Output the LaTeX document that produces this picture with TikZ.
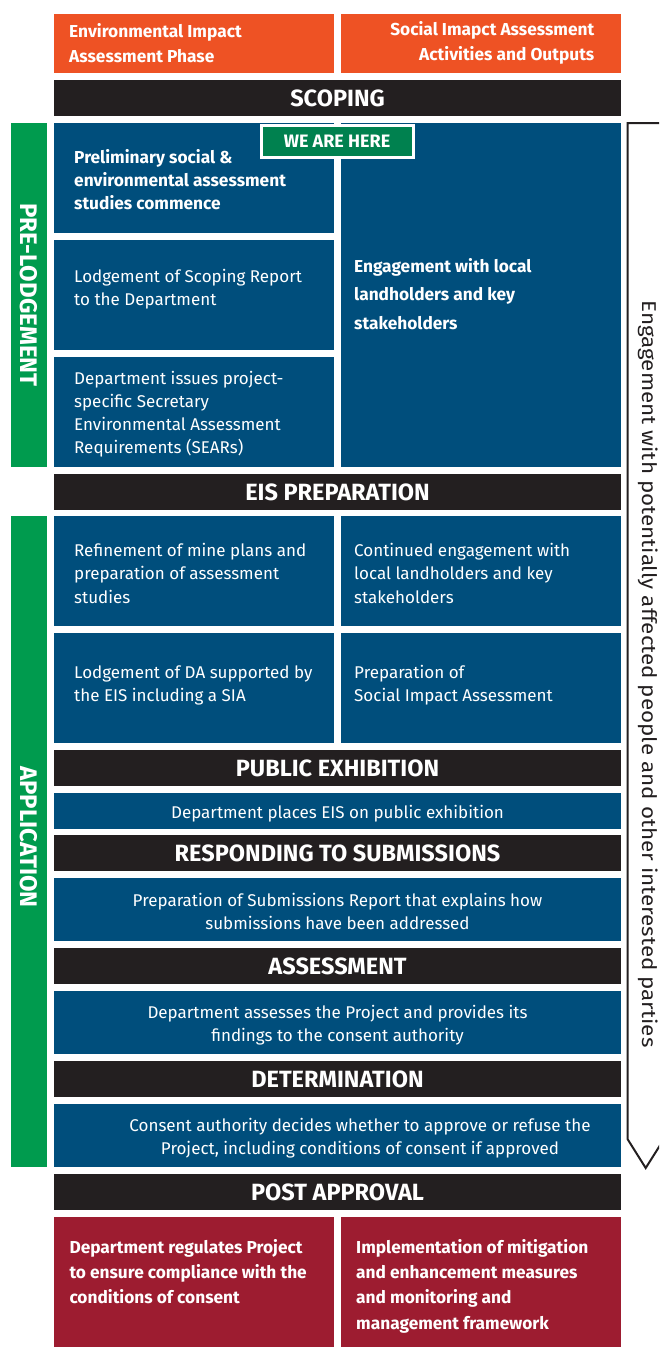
\documentclass[tikz,border=0pt]{standalone}
\usepackage{fontspec}
\setmainfont{Fira Sans}
\definecolor{orng}{HTML}{EE5224}
\definecolor{blk}{HTML}{231F20}
\definecolor{blu}{HTML}{004E7C}
\definecolor{grn}{HTML}{009B4E}
\definecolor{dgrn}{HTML}{00814F}
\definecolor{rd}{HTML}{9D1C30}
\begin{document}
\begin{tikzpicture}[x=1pt,y=-1pt,
  cell/.style={anchor=north west, inner sep=0pt, outer sep=0pt},
  half/.style={cell, minimum width=280pt, minimum height=109.5pt},
  full/.style={cell, minimum width=567pt},
  bar/.style={full, fill=blk, minimum height=36pt, text=white, font=\bfseries\fontsize{23.5}{26}\selectfont},
  bluebox/.style={fill=blu},
  txt/.style={anchor=base west, align=left, inner sep=0pt, text=white, font=\fontsize{17}{23.3}\selectfont},
  btxt/.style={txt, font=\bfseries\fontsize{17.3}{23.3}\selectfont},
  ctxt/.style={anchor=base, align=center, inner sep=0pt, text=white, font=\fontsize{17}{22.7}\selectfont},
  vtxt/.style={rotate=-90, inner sep=0pt, text=white, font=\bfseries\fontsize{24}{28}\selectfont},
  arrowline/.style={draw=blk, line width=2pt, line join=miter}
]
\useasboundingbox (0,0) rectangle (659,1347);
\clip (0,0) rectangle (659,1347);

% header (base anchor = baseline of the last line)
\node[cell, fill=orng, minimum width=280pt, minimum height=58.5pt] (orL) at (54,14) {};
\node[cell, fill=orng, minimum width=280pt, minimum height=58.5pt] (orR) at (341,14) {};
\node[btxt, font=\bfseries\fontsize{17.3}{25}\selectfont] (orLt) at (69,62.3) {Environmental Impact\\Assessment Phase};
\node[btxt, anchor=base east, align=right, font=\bfseries\fontsize{17.3}{25}\selectfont] (orRt) at (594.5,60.3) {Social Imapct Assessment\\Activities and Outputs};

% scoping
\node[bar] (scoping) at (54,80) {SCOPING};
\node[cell, fill=grn, minimum width=36pt, minimum height=343.5pt] (plodge) at (11,123) {};
\node[vtxt] (plodget) at (29,295) {PRE-LODGEMENT};
\node[half, bluebox] (b1) at (54,123) {};
\node[half, bluebox] (b2) at (54,240) {};
\node[half, bluebox] (b3) at (54,357) {};
\node[cell, bluebox, minimum width=280pt, minimum height=343.5pt] (bR) at (341,123) {};
\node[btxt] (b1t) at (74,209.9) {Preliminary social \&\\environmental assessment\\studies commence};
\node[txt] (b2t) at (74,305.3) {Lodgement of Scoping Report\\to the Department};
\node[txt] (b3t) at (74,453.9) {Department issues project-\\specific Secretary\\Environmental Assessment\\Requirements (SEARs)};
\node[btxt, font=\bfseries\fontsize{17.3}{28.5}\selectfont] (bRt) at (354,329) {Engagement with local\\landholders and key\\stakeholders};
\node[fill=dgrn, draw=white, line width=3pt, minimum width=152pt, minimum height=32pt, inner sep=0pt, text=white, font=\bfseries\fontsize{18}{20}\selectfont] (here) at (337,141) {WE ARE HERE};

% EIS preparation
\node[bar] (eis) at (54,474) {EIS PREPARATION};
\node[cell, fill=grn, minimum width=36pt, minimum height=650.5pt] (app) at (11,516) {};
\node[vtxt] (appt) at (29,837) {APPLICATION};
\node[half, bluebox] (r1L) at (54,516) {};
\node[half, bluebox] (r1R) at (341,516) {};
\node[half, bluebox] (r2L) at (54,633) {};
\node[half, bluebox] (r2R) at (341,633) {};
\node[txt] (r1Lt) at (74,603.1) {Refinement of mine plans and\\preparation of assessment\\studies};
\node[txt] (r1Rt) at (354,603.1) {Continued engagement with\\local landholders and key\\stakeholders};
\node[txt] (r2Lt) at (74,701.3) {Lodgement of DA supported by\\the EIS including a SIA};
\node[txt] (r2Rt) at (354,701.3) {Preparation of\\Social Impact Assessment};

% public exhibition
\node[bar] (pub) at (54,750) {PUBLIC EXHIBITION};
\node[full, bluebox, minimum height=36pt] (pubb) at (54,793) {};
\node[ctxt] (pubt) at (337.5,818.3) {Department places EIS on public exhibition};

% responding
\node[bar] (resp) at (54,835) {RESPONDING TO SUBMISSIONS};
\node[full, bluebox, minimum height=62.5pt] (respb) at (54,878) {};
\node[ctxt] (respt) at (337.5,929.4) {Preparation of Submissions Report that explains how\\submissions have been addressed};

% assessment
\node[bar] (ass) at (54,948) {ASSESSMENT};
\node[full, bluebox, minimum height=62.5pt] (assb) at (54,991) {};
\node[ctxt] (asst) at (337.5,1041.5) {Department assesses the Project and provides its\\findings to the consent authority};

% determination
\node[bar] (det) at (54,1061) {DETERMINATION};
\node[full, bluebox, minimum height=62.5pt] (detb) at (54,1104) {};
\node[ctxt] (dett) at (360,1154.2) {Consent authority decides whether to approve or refuse the\\Project, including conditions of consent if approved};

% post approval
\node[bar] (post) at (54,1174) {POST APPROVAL};
\node[half, fill=rd, minimum height=130pt] (redL) at (54,1217) {};
\node[half, fill=rd, minimum height=130pt] (redR) at (341,1217) {};
\node[btxt, font=\bfseries\fontsize{17.3}{25}\selectfont] (redLt) at (69.3,1303.3) {Department regulates Project\\to ensure compliance with the\\conditions of consent};
\node[btxt, font=\bfseries\fontsize{17.3}{25.3}\selectfont] (redRt) at (356,1329.2) {Implementation of mitigation\\and enhancement measures\\and monitoring and\\management framework};

% engagement arrow
\draw[arrowline] (666,123) -- (627.5,123) -- (627.5,1139) -- (645.7,1168) -- (664,1139);
\node[rotate=-90, anchor=base, inner sep=0pt, text=blk, font=\fontsize{20}{24}\selectfont] (engt) at (642,674) {\scalebox{1.12}[1]{Engagement with potentially affected people and other interested parties}};
\end{tikzpicture}
\end{document}
